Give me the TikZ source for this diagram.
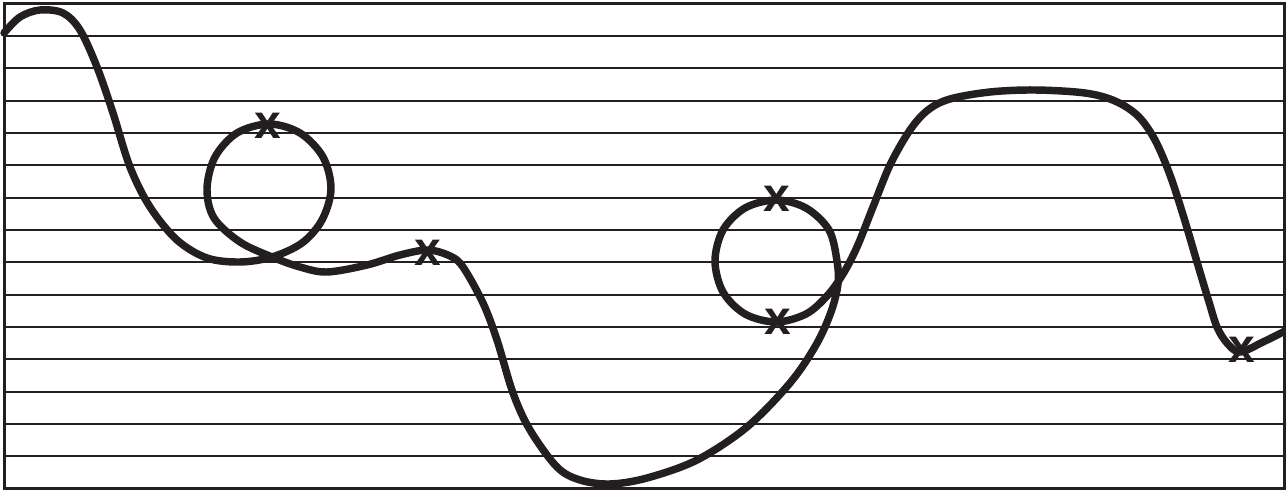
\documentclass[tikz,border=0pt]{standalone}
\usepackage{fontspec}
\newfontfamily\markfont{Liberation Sans}
\definecolor{ink}{HTML}{231F20}
\begin{document}
\begin{tikzpicture}[x=0.75pt,y=-0.75pt,
  rule/.style={draw=ink,line width=1.5pt},
  frame/.style={draw=ink,line width=2.2pt},
  curve/.style={draw=ink,line width=5.6pt,line cap=round,line join=round},
  xmark/.style={inner sep=0pt,text=ink,font=\markfont\bfseries\fontsize{36}{36}\selectfont}]
\useasboundingbox (0,0) rectangle (1286,491);
\foreach \k in {1,...,14}{
  \draw[rule] (4.5,{3.5+32.35*\k}) -- (1284.5,{3.5+32.35*\k});
}
\draw[frame] (4.5,3.5) rectangle (1284.5,488.5);
\draw[curve] plot[smooth,tension=0.55] coordinates {
 (4,33) (20,17) (40,10) (63,13) (80,30) (97,67) (113,113) (130,167) (150,207)
 (177,240) (207,258) (240,262) (272,257) (302,243) (322,220) (331,189) (323,157)
 (300,133) (269,124) (237,133) (215,157) (207,189) (214,218) (240,242) (272,257)
 (300,267) (327,272) (367,265)
 (400,255) (428,250) (450,256) (463,267) (483,303) (497,340) (513,393) (530,430)
 (557,467) (580,480) (610,484) (647,478) (697,460) (747,427) (790,383) (816,345)
 (831,312) (838,284) (837,261) (829,230) (806,208) (776,200) (745,208) (723,230)
 (715,261) (723,292) (745,314) (776,322) (806,314) (827,296) (843,274) (857,247)
 (873,207) (890,165) (910,130) (928,110) (950,99) (990,92) (1035,90) (1085,93)
 (1115,101) (1138,116) (1155,140) (1170,175) (1184,218) (1197,262) (1209,302)
 (1217,327) (1227,343) (1240,352) (1263,342) (1287,330)};
\node[xmark] (x1) at (268,126) {x};
\node[xmark] (x2) at (428,253) {x};
\node[xmark] (x3) at (777,199) {x};
\node[xmark] (x4) at (778,322) {x};
\node[xmark] (x5) at (1242,350) {x};
\end{tikzpicture}
\end{document}
